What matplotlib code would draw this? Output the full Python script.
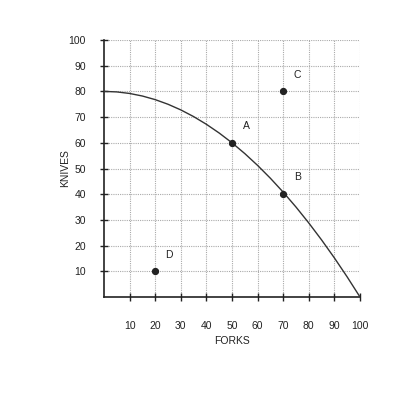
"""Production possibilities frontier: knives vs forks."""

import matplotlib.pyplot as plt

# curve
curve_forks = [0, 5, 10, 15, 20, 25, 30, 35, 40, 45, 50, 55, 60, 65, 70,
               75, 80, 85, 90, 95, 100]
curve_knives = [80, 79.8, 79.2, 78.2, 76.8, 75, 72.8, 70.2, 67.2, 63.8, 60,
                55.8, 51.2, 46.2, 40.8, 35, 28.8, 22.2, 15.2, 7.8, 0]

point_names = ["A", "B", "C", "D"]
point_forks = [50, 70, 70, 20]
point_knives = [60, 40, 80, 10]

ticks = [10, 20, 30, 40, 50, 60, 70, 80, 90, 100]

plt.rcParams["font.family"] = ["Liberation Sans", "DejaVu Sans"]

fig = plt.figure(figsize=(4, 4), dpi=100)
ax = fig.add_axes([0.26, 0.2575, 0.64, 0.6425])

ax.plot(curve_forks, curve_knives, color="#333333", linewidth=1.0, zorder=3)
ax.scatter(point_forks, point_knives, s=18, color="#222222", zorder=4)

for name, fx, ky in zip(point_names, point_forks, point_knives):
    ax.text(fx + 5.5, ky + 6.5, name, fontsize=7.5, color="#222222",
            ha="center", va="center")

ax.set_xlim(0, 100)
ax.set_ylim(0, 100)
ax.set_xticks(ticks)
ax.set_yticks(ticks)
ax.grid(True, color="#aaaaaa", linestyle=(0, (1, 1)), linewidth=0.8)
ax.set_axisbelow(True)

for side in ["top", "right"]:
    ax.spines[side].set_visible(False)
for side in ["left", "bottom"]:
    ax.spines[side].set_linewidth(1.2)
    ax.spines[side].set_color("#222222")

ax.tick_params(axis="x", direction="inout", length=6, width=1, pad=14,
               labelsize=7.5, colors="#222222")
ax.tick_params(axis="y", direction="inout", length=6, width=1, pad=10,
               labelsize=7.5, colors="#222222")

ax.set_xlabel("FORKS", fontsize=7.5, labelpad=4, color="#222222")
ax.set_ylabel("KNIVES", fontsize=7.5, labelpad=-1, color="#222222")

plt.savefig("out.png", dpi=100)
plt.close(fig)
